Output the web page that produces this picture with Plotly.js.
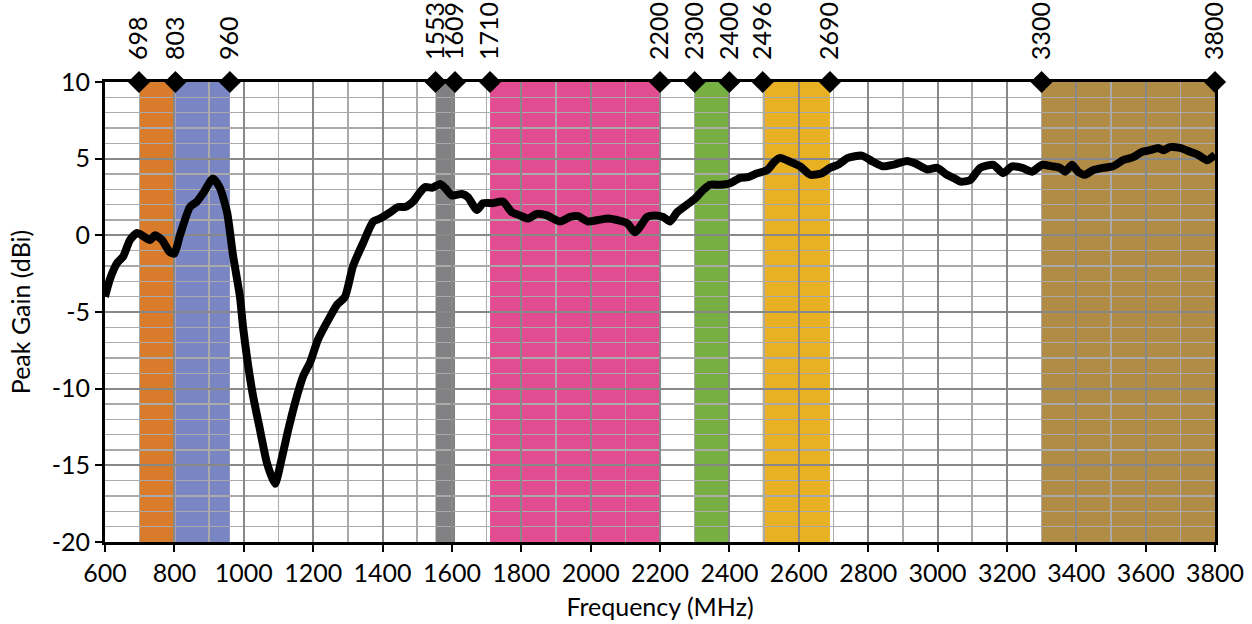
<!DOCTYPE html>
<html>
<head>
<meta charset="utf-8">
<script src="https://cdn.plot.ly/plotly-3.0.1.min.js"></script>
<style>html,body{margin:0;padding:0;background:#fff;}#chart{width:1252px;height:624px;}</style>
</head>
<body>
<div id="chart"></div>
<script>
const freq = [600,606,615,635,652,672,692,710,730,744,764,787,800,816,845,865,883,911,931,952,969,989,998,1012,1027,1047,1067,1090,1110,1128,1153,1171,1191,1214,1249,1270,1292,1315,1344,1373,1393,1422,1445,1465,1488,1508,1523,1543,1566,1580,1600,1629,1646,1672,1690,1719,1747,1773,1796,1820,1845,1874,1912,1941,1964,1992,2021,2050,2076,2105,2128,2142,2163,2186,2209,2229,2249,2278,2301,2324,2344,2373,2402,2431,2454,2480,2509,2530,2546,2575,2604,2633,2667,2690,2713,2742,2782,2814,2843,2872,2912,2935,2970,2999,3027,3050,3066,3094,3123,3161,3189,3215,3244,3273,3301,3330,3353,3368,3388,3405,3425,3448,3477,3506,3535,3564,3590,3613,3636,3651,3670,3699,3728,3751,3777,3800];
const gain = [-4.0,-3.5,-2.8,-1.8,-1.4,-0.3,0.15,-0.05,-0.3,0.0,-0.3,-1.1,-1.2,0.0,1.85,2.2,2.75,3.7,3.1,1.5,-1.3,-4.0,-6.0,-8.4,-10.5,-12.7,-14.85,-16.2,-14.5,-12.7,-10.5,-9.2,-8.3,-6.8,-5.3,-4.5,-4.0,-2.0,-0.5,0.9,1.1,1.5,1.85,1.85,2.2,2.8,3.15,3.1,3.35,3.1,2.6,2.7,2.5,1.65,2.1,2.1,2.2,1.5,1.3,1.1,1.4,1.3,0.9,1.2,1.25,0.9,1.0,1.1,1.0,0.8,0.2,0.55,1.2,1.3,1.2,0.9,1.5,2.0,2.4,2.95,3.3,3.3,3.4,3.75,3.8,4.05,4.25,4.8,5.05,4.8,4.5,3.95,4.05,4.4,4.6,5.05,5.2,4.8,4.5,4.6,4.85,4.7,4.3,4.4,3.95,3.7,3.5,3.6,4.4,4.6,4.05,4.5,4.4,4.15,4.6,4.5,4.4,4.15,4.6,4.15,3.95,4.25,4.4,4.5,4.9,5.1,5.45,5.55,5.7,5.55,5.75,5.7,5.45,5.25,4.9,5.25];

const bandStart = [698, 803, 1553, 1710, 2300, 2496, 3300];
const bandEnd   = [803, 960, 1609, 2200, 2400, 2690, 3800];
const bandColor = ['#D87C2C', '#7A86C4', '#818184', '#E24C91', '#77AF43', '#E8B124', '#B08C47'];

const edgeFreq = [698, 803, 960, 1553, 1609, 1710, 2200, 2300, 2400, 2496, 2690, 3300, 3800];
const edgeLabels = edgeFreq.map(String);
const edgeLevel = edgeFreq.map(() => 10);

const yTickVals = [-20, -15, -10, -5, 0, 5, 10];
const yTickText = ['-20', '-15', '-10', '-5', '0', '5', '10'];

const FONT = 'Lato, "Open Sans", sans-serif';
const FS = 25;

const shapes = bandStart.map((s, i) => ({
  type: 'rect', xref: 'x', yref: 'paper', x0: s, x1: bandEnd[i], y0: 0, y1: 1,
  fillcolor: bandColor[i], line: {width: 0}, layer: 'below'
}));

const traces = [
  {x: freq, y: gain, type: 'scatter', mode: 'lines',
   line: {color: '#000', width: 8, shape: 'spline', smoothing: 0.6},
   hoverinfo: 'skip', showlegend: false},
  {x: edgeFreq, y: edgeLevel, type: 'scatter', mode: 'markers',
   marker: {symbol: 'diamond', size: 17, color: '#000'}, cliponaxis: false,
   hoverinfo: 'skip', showlegend: false},
  {x: edgeFreq, y: edgeLevel, xaxis: 'x2', type: 'scatter', mode: 'markers',
   marker: {opacity: 0}, hoverinfo: 'skip', showlegend: false}
];

const layout = {
  width: 1252, height: 624,
  margin: {l: 105, r: 37, t: 82, b: 82},
  paper_bgcolor: '#fff', plot_bgcolor: '#fff',
  font: {family: FONT, size: FS, color: '#000'},
  shapes: shapes,
  xaxis: {
    range: [600, 3800], dtick: 200, tick0: 600,
    showgrid: true, gridcolor: '#888888', gridwidth: 2,
    minor: {dtick: 100, showgrid: true, gridcolor: '#AAAAAA', gridwidth: 1.5},
    showline: true, linecolor: '#000', linewidth: 3, mirror: true,
    ticks: 'outside', ticklen: 7, tickwidth: 2, tickcolor: '#000',
    tickfont: {family: FONT, size: FS},
    zeroline: false, automargin: false,
    title: {text: 'Frequency (MHz)', font: {family: FONT, size: FS}, standoff: 13}
  },
  xaxis2: {
    overlaying: 'x', side: 'top', range: [600, 3800],
    tickmode: 'array', tickvals: edgeFreq, ticktext: edgeLabels,
    tickangle: -90, ticks: 'outside', ticklen: 16, tickcolor: 'rgba(0,0,0,0)',
    showgrid: false, zeroline: false, showline: false, automargin: false,
    tickfont: {family: FONT, size: FS}
  },
  yaxis: {
    range: [-20, 10], tickmode: 'array', tickvals: yTickVals, ticktext: yTickText,
    showgrid: true, gridcolor: '#888888', gridwidth: 2,
    minor: {dtick: 1, tick0: 0, showgrid: true, gridcolor: '#AAAAAA', gridwidth: 1.5},
    showline: true, linecolor: '#000', linewidth: 3, mirror: true,
    ticks: 'outside', ticklen: 7, tickwidth: 2, tickcolor: '#000',
    tickfont: {family: FONT, size: FS},
    zeroline: false, automargin: false,
    title: {text: 'Peak Gain (dBi)', font: {family: FONT, size: FS}, standoff: 14}
  }
};

Plotly.newPlot('chart', traces, layout, {staticPlot: true, displayModeBar: false});
</script>
</body>
</html>
